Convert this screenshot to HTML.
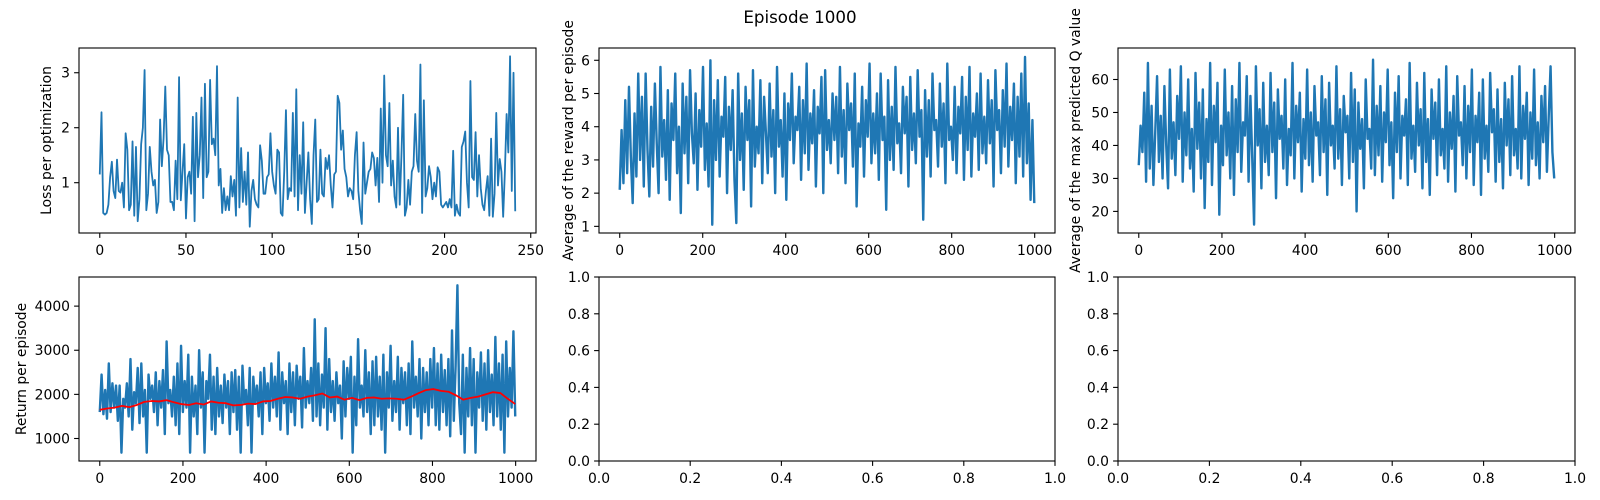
<!DOCTYPE html>
<html><head><meta charset="utf-8"><style>
html,body{margin:0;padding:0;background:#fff;}
svg{display:block;font-family:"DejaVu Sans","Liberation Sans",sans-serif;}
</style></head><body>
<svg id="fig" width="1600" height="500" viewBox="0 0 1600 500" xmlns="http://www.w3.org/2000/svg">
<rect width="1600" height="500" fill="#fff"/>
<text x="800" y="23" text-anchor="middle" font-size="16.7">Episode 1000</text>
</svg>
<script>
const lossValues=[1.15,2.28,0.45,0.42,0.45,0.6,1.1,1.38,0.85,0.72,1.42,0.85,0.82,1.0,0.55,1.9,1.6,0.5,0.6,1.75,0.4,1.65,0.3,0.7,1.7,2.0,3.05,0.5,0.8,1.65,1.2,0.95,1.05,0.45,0.65,2.15,1.3,1.8,2.75,1.6,1.5,0.65,0.65,0.5,1.4,0.7,2.92,0.68,1.2,1.7,0.35,1.1,1.2,0.8,2.2,0.3,2.27,1.1,1.5,2.55,0.72,2.8,1.1,1.2,2.87,1.7,1.8,1.5,3.12,0.95,1.25,0.45,0.9,0.5,0.75,0.5,1.12,0.75,1.05,0.4,2.55,0.55,1.63,0.65,1.2,0.6,1.55,0.2,0.85,1.05,0.7,0.6,0.55,1.68,1.4,0.8,0.8,1.1,1.15,1.9,1.2,0.95,0.8,1.6,1.55,0.45,0.4,1.2,2.32,0.7,0.9,0.85,2.27,0.75,2.7,0.5,1.5,0.8,2.1,0.45,1.0,1.55,0.7,0.25,1.5,2.15,0.65,0.7,1.6,0.8,0.75,1.45,1.25,1.5,0.95,0.55,1.15,1.2,2.58,2.45,1.6,1.95,1.25,1.1,0.75,0.9,0.85,0.7,1.5,1.92,0.85,0.5,0.25,1.73,0.8,1.0,1.2,1.25,1.55,1.45,0.95,1.45,0.65,2.35,1.0,2.95,1.5,1.3,2.45,0.95,1.4,0.75,0.55,2.0,0.6,1.5,2.6,0.4,0.55,1.05,0.6,1.2,1.3,2.25,1.4,1.2,3.15,0.45,2.5,0.75,0.9,1.3,1.1,0.7,1.0,0.75,1.28,1.2,0.6,0.55,0.6,0.65,0.55,0.7,0.55,1.58,0.4,0.6,0.45,0.4,1.65,1.75,1.93,1.0,0.55,2.85,1.1,1.05,1.92,0.75,1.5,0.9,0.6,0.5,0.85,1.12,0.4,1.8,0.38,0.8,2.27,0.95,1.43,1.2,0.38,1.2,2.25,1.55,3.3,0.85,3.0,0.48];
const rewardValues=[2.1,3.9,2.3,4.8,2.6,5.2,3.1,1.7,4.4,2.5,5.6,3.0,4.9,2.2,5.6,3.3,1.9,4.6,2.8,5.3,3.5,2.0,5.8,3.1,4.2,2.4,5.1,1.8,4.7,3.6,5.6,2.6,4.0,1.4,5.3,3.2,4.9,2.3,5.7,3.8,2.9,5.0,2.1,4.5,3.4,5.8,2.7,4.1,2.2,6.0,1.05,4.8,3.0,5.4,2.5,4.3,3.7,5.5,2.0,4.6,3.3,5.1,2.4,1.1,5.6,3.0,4.4,2.1,5.2,3.6,4.8,1.6,5.7,2.8,4.0,3.2,5.4,2.3,4.9,3.8,2.6,5.3,3.1,4.5,2.0,5.8,3.4,4.2,2.5,5.0,1.8,4.7,3.6,5.6,2.9,4.3,3.9,5.2,2.4,4.8,3.2,5.9,2.7,4.4,3.5,5.1,2.2,4.6,3.8,5.5,2.0,5.7,3.3,4.2,2.9,5.0,3.6,4.9,2.6,5.8,3.1,4.5,2.3,5.3,3.9,4.7,2.8,5.6,1.6,4.1,3.4,5.2,2.5,4.8,3.7,5.9,2.9,4.4,3.2,5.0,2.4,5.6,3.6,4.3,1.5,5.4,3.0,4.6,2.7,5.8,3.5,4.1,2.6,5.2,3.8,4.9,2.2,5.5,3.3,4.4,2.9,5.7,3.7,4.5,1.2,5.1,3.1,4.8,2.5,5.6,3.9,4.2,2.8,5.3,3.4,4.7,2.3,5.9,3.6,4.0,3.0,5.2,2.6,4.6,3.8,5.5,2.4,4.9,3.3,5.8,2.5,4.4,3.7,5.0,2.7,5.6,3.2,4.3,2.9,5.4,3.5,4.8,2.2,5.7,3.9,4.5,2.6,5.1,3.4,5.9,2.8,4.6,3.6,5.3,2.3,4.9,3.1,5.6,2.5,6.1,2.9,4.7,1.8,4.2,1.7];
const qValues=[34,46,38,56,29,65,33,52,28,44,61,35,49,30,58,40,27,63,36,47,31,55,42,64,29,50,37,60,33,45,26,62,39,53,30,57,21,48,35,65,28,52,41,59,19,46,34,63,37,50,30,58,25,54,38,65,32,47,43,61,29,55,36,16,64,40,51,27,59,35,46,31,62,38,53,24,57,42,49,33,60,28,45,37,65,30,52,41,56,26,48,36,63,34,50,29,58,43,47,31,61,38,54,25,59,40,46,33,64,36,51,28,55,44,49,30,62,35,57,20,53,39,48,27,60,42,45,33,66,31,52,37,58,29,50,41,63,34,47,24,56,38,61,30,49,43,54,28,65,36,46,32,59,40,51,27,62,35,48,25,57,42,53,31,60,37,45,33,64,29,50,39,55,26,61,43,47,34,58,30,52,38,63,28,49,41,56,25,60,36,46,32,62,44,51,29,57,35,48,27,59,40,54,31,61,37,45,33,64,30,52,42,56,28,50,36,63,34,47,30,55,41,58,32,49,64,38,30];
const returnValues=[1600,2450,1550,2100,1450,2700,1600,2250,1700,2200,1400,2200,680,1900,1700,2250,1500,2800,1200,2050,1800,2600,1350,2700,1500,2100,680,2450,1900,2200,1600,2500,1300,2300,1700,2550,1100,3200,1800,2100,1500,2400,1300,2700,1100,3100,1600,2300,1700,2900,680,2400,1500,2200,1100,3000,1700,2500,680,2300,1900,2900,1200,2400,1100,2600,1500,2200,1350,2450,1700,2300,1100,2500,1600,2550,1200,2400,680,2650,1800,2100,1300,2600,680,2400,1800,2200,1500,2500,1100,2600,1800,2250,1400,2700,1700,2400,1500,2950,1200,2500,1800,2300,1100,2700,1600,2500,1300,2650,1900,2400,1250,3050,1700,2300,1800,2600,1400,3700,1500,2700,1300,2450,1700,3500,1200,2800,1600,2300,1400,2500,1800,2200,1000,2750,1500,2600,1900,2850,680,2400,1300,3250,1700,2200,1500,3000,1600,2500,1100,2750,1300,2850,1500,2400,1200,2900,680,2500,1700,3100,1400,2300,1600,2850,1200,2600,1800,2500,1300,2700,1100,3200,1700,2400,1500,2800,1000,2600,1600,2500,1300,2800,1700,3050,1300,2700,1200,2900,1600,2550,1300,2800,1050,3450,1400,2650,4470,1800,1100,2900,680,2600,1500,3050,1300,2800,680,2500,1700,2950,1400,2700,1200,3000,1600,2450,1300,3300,1500,2700,1200,2900,680,3200,1500,2600,1700,3430,1500];
const avgValues=[1650,1680,1700,1740,1710,1760,1830,1850,1840,1870,1820,1780,1760,1800,1770,1840,1810,1800,1750,1760,1790,1780,1840,1850,1900,1940,1930,1900,1950,1980,2020,1930,1950,1880,1920,1870,1920,1930,1900,1910,1900,1880,1950,2030,2100,2120,2080,2060,1980,1880,1920,1950,2000,2050,2030,1900,1780];
const lossXTicks=[0,50,100,150,200,250];
const epXTicks=[0,200,400,600,800,1000];
const rewardYTicks=[1,2,3,4,5,6];
const qYTicks=[20,30,40,50,60];
const lossYTicks=[1,2,3];
const returnYTicks=[1000,2000,3000,4000];
const unitTicks=[0,0.2,0.4,0.6,0.8,1.0];

const svg=document.getElementById('fig');
const NS='http://www.w3.org/2000/svg';
function mk(tag,attrs,parent){const e=document.createElementNS(NS,tag);for(const k in attrs)e.setAttribute(k,attrs[k]);(parent||svg).appendChild(e);return e;}

function makeAxes(name,L,T,R,B,xmin,xmax,ymin,ymax,xticks,yticks,fmtX,fmtY,ylabel,ylabelX){
  const g=mk('g',{});
  
  
  const sx=v=>L+(v-xmin)/(xmax-xmin)*(R-L);
  const sy=v=>B-(v-ymin)/(ymax-ymin)*(B-T);
  const plot=mk('g',{},g);
  
  
  xticks.forEach(t=>{
    const x=sx(t);
    const tl=mk('line',{x1:x,x2:x,y1:B,y2:B+4.9,stroke:'#000','stroke-width':1.1},g);
    
    
    const tx=mk('text',{x:x,y:B+22,'text-anchor':'middle','font-size':13.9},g);
    
    
    tx.textContent=fmtX(t);
  });
  yticks.forEach(t=>{
    const y=sy(t);
    const tl=mk('line',{x1:L-4.9,x2:L,y1:y,y2:y,stroke:'#000','stroke-width':1.1},g);
    
    
    const tx=mk('text',{x:L-9,y:y+5,'text-anchor':'end','font-size':13.9},g);
    
    
    tx.textContent=fmtY(t);
  });
  if(ylabel){
    const cy=(T+B)/2;
    const lb=mk('text',{x:ylabelX,y:cy,'text-anchor':'middle','font-size':13.9,transform:`rotate(-90 ${ylabelX} ${cy})`,'dominant-baseline':'central'},g);
    
    
    lb.textContent=ylabel;
  }
  const frame=mk('rect',{x:L,y:T,width:R-L,height:B-T,fill:'none',stroke:'#000','stroke-width':1.1},g);
  
  
  return {sx,sy,plot,L,T,R,B};
}
function drawLine(ax,xs,ys,color,w,name){
  let d='';
  for(let i=0;i<ys.length;i++){d+=(i?'L':'M')+ax.sx(xs[i]).toFixed(2)+' '+ax.sy(ys[i]).toFixed(2);}
  const p=mk('path',{d:d,fill:'none',stroke:color,'stroke-width':w,'stroke-linejoin':'round'},ax.plot);
  
  
}
function spread(n,maxX){const a=[];for(let i=0;i<n;i++)a.push(i*maxX/(n-1));return a;}
const I=v=>String(v), F1=v=>v.toFixed(1);

const topT=48,topB=233,botT=277,botB=461;
const c1L=79,c1R=536,c2L=599,c2R=1055,c3L=1118,c3R=1575;

const ax1=makeAxes('loss-axes',c1L,topT,c1R,topB,-12.05,253.05,0.085,3.45,lossXTicks,lossYTicks,I,I,'Loss per optimization',47);
drawLine(ax1,lossValues.map((v,i)=>i),lossValues,'#1f77b4',1.8,'loss-line');

const ax2=makeAxes('reward-axes',c2L,topT,c2R,topB,-49.95,1048.95,0.8,6.37,epXTicks,rewardYTicks,I,I,'Average of the reward per episode',569);
drawLine(ax2,spread(rewardValues.length,999),rewardValues,'#1f77b4',2.4,'reward-line');

const ax3=makeAxes('q-value-axes',c3L,topT,c3R,topB,-49.95,1048.95,13.45,69.55,epXTicks,qYTicks,I,I,'Average of the max predicted Q value',1076);
drawLine(ax3,spread(qValues.length,999),qValues,'#1f77b4',2.4,'q-value-line');

const ax4=makeAxes('return-axes',c1L,botT,c1R,botB,-49.95,1048.95,490,4660,epXTicks,returnYTicks,I,I,'Return per episode',22);
drawLine(ax4,spread(returnValues.length,999),returnValues,'#1f77b4',2.4,'return-line');
drawLine(ax4,spread(avgValues.length,999),avgValues,'red',1.8,'return-moving-average-line');

makeAxes('empty-axes-middle',c2L,botT,c2R,botB,0,1,0,1,unitTicks,unitTicks,F1,F1,null,0);
makeAxes('empty-axes-right',c3L,botT,c3R,botB,0,1,0,1,unitTicks,unitTicks,F1,F1,null,0);
</script>
</body></html>
